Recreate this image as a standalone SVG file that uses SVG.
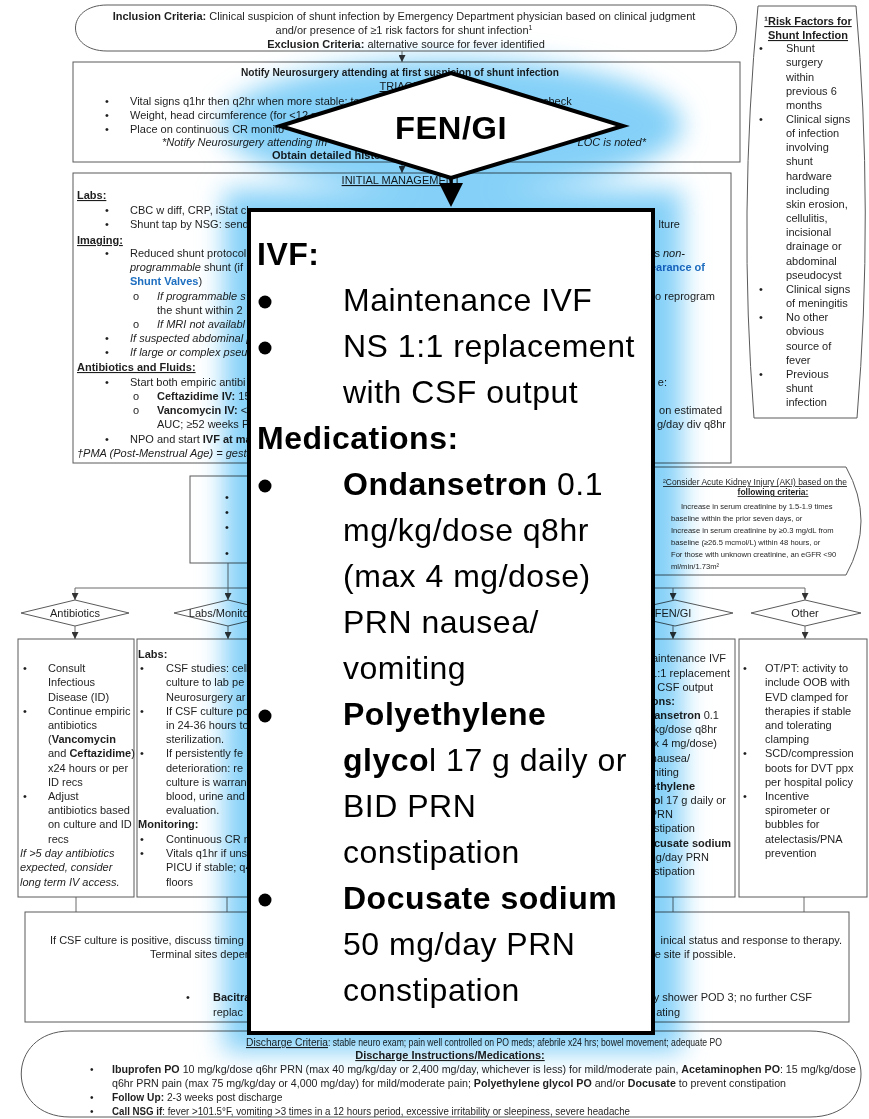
<svg xmlns="http://www.w3.org/2000/svg" width="869" height="1119" viewBox="0 0 869 1119">
  <defs>
    <style>
      .s { font-family: "Liberation Sans Narrow", "Liberation Sans", Arial, sans-serif; font-size: 11px; fill: #1e1e1e; }
      .sm { font-size: 7.6px; }
      .sh { font-size: 8.5px; }
      .dc { font-size: 10.2px; }
      .b { font-weight: bold; }
      .i { font-style: italic; }
      .u { text-decoration: underline; }
      .c { text-anchor: middle; }
      .e { text-anchor: end; }
      .blue { fill: #1f6fc0; font-weight: bold; }
      .box { fill: #fff; stroke: #5a5a5a; stroke-width: 1; }
      .ln { fill: none; stroke: #6a6a6a; stroke-width: 1; }
      .big { font-family: "Liberation Sans", Arial, sans-serif; font-size: 32px; letter-spacing: 0.5px; fill: #000; }
      .ov { fill: #fff; stroke: #000; stroke-width: 4; }
    </style>
    <marker id="ah" viewBox="0 0 10 10" refX="10" refY="5" markerWidth="7" markerHeight="7" markerUnits="userSpaceOnUse" orient="auto">
      <path d="M0,0 L10,5 L0,10 Z" fill="#333"/>
    </marker>
    <filter id="soft" x="-20%" y="-20%" width="140%" height="140%">
      <feGaussianBlur stdDeviation="13"/>
    </filter>
  </defs>

  <rect width="869" height="1119" fill="#fff"/>

  <!-- connectors -->
  <g id="connectors" class="ln">
    <path d="M402,51 V62" marker-end="url(#ah)"/>
    <path d="M402,162 V173" marker-end="url(#ah)"/>
    <path d="M75,588 H805"/>
    <path d="M75,588 V600" marker-end="url(#ah)"/>
    <path d="M228,563 V600" marker-end="url(#ah)"/>
    <path d="M673,588 V600" marker-end="url(#ah)"/>
    <path d="M805,588 V600" marker-end="url(#ah)"/>
    <path d="M75,626 V639" marker-end="url(#ah)"/>
    <path d="M228,626 V639" marker-end="url(#ah)"/>
    <path d="M673,626 V639" marker-end="url(#ah)"/>
    <path d="M805,626 V639" marker-end="url(#ah)"/>
    <path d="M76,897 V912"/>
    <path d="M227,897 V912"/>
    <path d="M673,897 V912"/>
    <path d="M804,897 V912"/>
  </g>

  <!-- inclusion / exclusion criteria -->
  <g id="criteria">
    <path class="box" d="M107,5 H705 C747,5 747,51 705,51 H107 C65,51 65,5 107,5 Z"/>
    <text class="s c" x="404" y="20"><tspan class="b">Inclusion Criteria:</tspan> Clinical suspicion of shunt infection by Emergency Department physician based on clinical judgment</text>
    <text class="s c" x="404" y="34">and/or presence of ≥1 risk factors for shunt infection<tspan font-size="7" dy="-4">1</tspan></text>
    <text class="s c" x="406" y="48"><tspan class="b">Exclusion Criteria:</tspan> alternative source for fever identified</text>
  </g>

  <!-- triage -->
  <g id="triage">
    <rect class="box" x="73" y="62" width="667" height="100"/>
    <text class="s c b" x="400" y="76" textLength="318" lengthAdjust="spacingAndGlyphs">Notify Neurosurgery attending at first suspicion of shunt infection</text>
    <text class="s c u" x="400" y="90">TRIAGE</text>
    <text class="s" x="105" y="105">•</text>
    <text class="s" x="130" y="105">Vital signs q1hr then q2hr when more stable: tem</text>
    <text class="s" x="543" y="105">check</text>
    <text class="s" x="105" y="119">•</text>
    <text class="s" x="130" y="119">Weight, head circumference (for &lt;12 m</text>
    <text class="s" x="105" y="133">•</text>
    <text class="s" x="130" y="133">Place on continuous CR monito</text>
    <text class="s i" x="162" y="146">*Notify Neurosurgery attending im</text>
    <text class="s i e" x="646" y="146">LOC is noted*</text>
    <text class="s b" x="272" y="159">Obtain detailed histo</text>
  </g>

  <!-- initial management -->
  <g id="initial-management">
    <rect class="box" x="73" y="173" width="658" height="290"/>
    <text class="s c u" x="401" y="184">INITIAL MANAGEMENT</text>
    <text class="s b u" x="77" y="199">Labs:</text>
    <text class="s" x="105" y="214">•</text>
    <text class="s" x="130" y="214">CBC w diff, CRP, iStat ch</text>
    <text class="s" x="105" y="228">•</text>
    <text class="s" x="130" y="228">Shunt tap by NSG: send</text>
    <text class="s e" x="680" y="228">lture</text>
    <text class="s b u" x="77" y="244">Imaging:</text>
    <text class="s" x="105" y="257">•</text>
    <text class="s" x="130" y="257">Reduced shunt protocol</text>
    <text class="s e" x="685" y="257">s <tspan class="i">non-</tspan></text>
    <text class="s" x="130" y="271"><tspan class="i">programmable</tspan> shunt (if</text>
    <text class="s e blue" x="705" y="271">earance of</text>
    <text class="s" x="130" y="285"><tspan class="blue">Shunt Valves</tspan>)</text>
    <text class="s" x="133" y="300">o</text>
    <text class="s i" x="157" y="300">If programmable s</text>
    <text class="s e" x="715" y="300">o reprogram</text>
    <text class="s" x="157" y="314">the shunt within 2</text>
    <text class="s" x="133" y="328">o</text>
    <text class="s i" x="157" y="328">If MRI not availabl</text>
    <text class="s" x="105" y="342">•</text>
    <text class="s i" x="130" y="342">If suspected abdominal p</text>
    <text class="s" x="105" y="356">•</text>
    <text class="s i" x="130" y="356">If large or complex pseu</text>
    <text class="s b u" x="77" y="371">Antibiotics and Fluids:</text>
    <text class="s" x="105" y="386">•</text>
    <text class="s" x="130" y="386">Start both empiric antibi</text>
    <text class="s e" x="667" y="386">e:</text>
    <text class="s" x="133" y="400">o</text>
    <text class="s" x="157" y="400"><tspan class="b">Ceftazidime IV:</tspan> 15</text>
    <text class="s" x="133" y="414">o</text>
    <text class="s" x="157" y="414"><tspan class="b">Vancomycin IV:</tspan> &lt;5</text>
    <text class="s e" x="722" y="414">on estimated</text>
    <text class="s" x="157" y="428">AUC; ≥52 weeks P</text>
    <text class="s e" x="726" y="428">g/day div q8hr</text>
    <text class="s" x="105" y="443">•</text>
    <text class="s" x="130" y="443">NPO and start <tspan class="b">IVF at ma</tspan></text>
    <text class="s i" x="77" y="457">†PMA (Post-Menstrual Age) = gesta</text>
  </g>

  <!-- risk factors sidebar -->
  <g id="risk-factors">
    <path class="box" d="M758,6 L856,6 Q874,212 857,418 L754,418 Q738,212 758,6 Z"/>
    <text class="s b u c" x="808" y="25">¹Risk Factors for</text>
    <text class="s b u c" x="808" y="39">Shunt Infection</text>
    <g class="s">
      <text x="759" y="52">•</text>
      <text x="786" y="52">Shunt</text>
      <text x="786" y="66">surgery</text>
      <text x="786" y="80.5">within</text>
      <text x="786" y="94.5">previous 6</text>
      <text x="786" y="108.7">months</text>
      <text x="759" y="122.8">•</text>
      <text x="786" y="122.8">Clinical signs</text>
      <text x="786" y="137">of infection</text>
      <text x="786" y="151.2">involving</text>
      <text x="786" y="165.4">shunt</text>
      <text x="786" y="179.5">hardware</text>
      <text x="786" y="193.7">including</text>
      <text x="786" y="207.9">skin erosion,</text>
      <text x="786" y="222">cellulitis,</text>
      <text x="786" y="236.2">incisional</text>
      <text x="786" y="250.4">drainage or</text>
      <text x="786" y="264.5">abdominal</text>
      <text x="786" y="278.7">pseudocyst</text>
      <text x="759" y="292.9">•</text>
      <text x="786" y="292.9">Clinical signs</text>
      <text x="786" y="307">of meningitis</text>
      <text x="759" y="321.2">•</text>
      <text x="786" y="321.2">No other</text>
      <text x="786" y="335.4">obvious</text>
      <text x="786" y="349.5">source of</text>
      <text x="786" y="363.7">fever</text>
      <text x="759" y="377.9">•</text>
      <text x="786" y="377.9">Previous</text>
      <text x="786" y="392">shunt</text>
      <text x="786" y="406.2">infection</text>
    </g>
  </g>

  <!-- follow-up bullets box -->
  <g id="followup">
    <rect class="box" x="190" y="476" width="453" height="87"/>
    <text class="s" x="225" y="501">•</text>
    <text class="s" x="225" y="516">•</text>
    <text class="s" x="225" y="531">•</text>
    <text class="s" x="225" y="557">•</text>
  </g>

  <!-- acute kidney injury note -->
  <g id="aki">
    <path class="box" d="M640,467 H846 Q876,521 846,575 H640 Z"/>
    <text class="s sh u" x="663" y="485" textLength="184" lengthAdjust="spacingAndGlyphs">²Consider Acute Kidney Injury (AKI) based on the</text>
    <text class="s sh b u c" x="773" y="495">following criteria:</text>
    <g class="s sm">
      <text x="681" y="509">Increase in serum creatinine by 1.5-1.9 times</text>
      <text x="671" y="521">baseline within the prior seven days, or</text>
      <text x="671" y="533">Increase in serum creatinine by ≥0.3 mg/dL from</text>
      <text x="671" y="545">baseline (≥26.5 mcmol/L) within 48 hours, or</text>
      <text x="671" y="557">For those with unknown creatinine, an eGFR &lt;90</text>
      <text x="671" y="569">ml/min/1.73m²</text>
    </g>
  </g>

  <!-- decision diamonds -->
  <g id="d-antibiotics">
    <polygon class="box" points="21,613 75,600 129,613 75,626"/>
    <text class="s c" x="75" y="617">Antibiotics</text>
  </g>
  <g id="d-labs">
    <polygon class="box" points="174,613 228,600 282,613 228,626"/>
    <text class="s c" x="228" y="617">Labs/Monitoring</text>
  </g>
  <g id="d-fengi">
    <polygon class="box" points="617,613 675,600 733,613 675,626"/>
    <text class="s c" x="673" y="617">FEN/GI</text>
  </g>
  <g id="d-other">
    <polygon class="box" points="751,613 805,600 861,613 805,626"/>
    <text class="s c" x="805" y="617">Other</text>
  </g>

  <!-- antibiotics box -->
  <g id="antibiotics">
    <rect class="box" x="18" y="639" width="116" height="258"/>
    <g class="s">
      <text x="23" y="672">•</text>
      <text x="48" y="672">Consult</text>
      <text x="48" y="686">Infectious</text>
      <text x="48" y="701">Disease (ID)</text>
      <text x="23" y="715">•</text>
      <text x="48" y="715">Continue empiric</text>
      <text x="48" y="729">antibiotics</text>
      <text x="48" y="743">(<tspan class="b">Vancomycin</tspan></text>
      <text x="48" y="757">and <tspan class="b">Ceftazidime</tspan>)</text>
      <text x="48" y="772">x24 hours or per</text>
      <text x="48" y="786">ID recs</text>
      <text x="23" y="800">•</text>
      <text x="48" y="800">Adjust</text>
      <text x="48" y="814">antibiotics based</text>
      <text x="48" y="828">on culture and ID</text>
      <text x="48" y="843">recs</text>
      <text class="i" x="20" y="857">If &gt;5 day antibiotics</text>
      <text class="i" x="20" y="871">expected, consider</text>
      <text class="i" x="20" y="886">long term IV access.</text>
    </g>
  </g>

  <!-- labs / monitoring box -->
  <g id="labs">
    <rect class="box" x="137" y="639" width="200" height="258"/>
    <g class="s">
      <text class="b" x="138" y="658">Labs:</text>
      <text x="140" y="672">•</text>
      <text x="166" y="672">CSF studies: cell</text>
      <text x="166" y="686">culture to lab pe</text>
      <text x="166" y="701">Neurosurgery ar</text>
      <text x="140" y="715">•</text>
      <text x="166" y="715">If CSF culture po</text>
      <text x="166" y="729">in 24-36 hours to</text>
      <text x="166" y="743">sterilization.</text>
      <text x="140" y="757">•</text>
      <text x="166" y="757">If persistently fe</text>
      <text x="166" y="772">deterioration: re</text>
      <text x="166" y="786">culture is warran</text>
      <text x="166" y="800">blood, urine and</text>
      <text x="166" y="814">evaluation.</text>
      <text class="b" x="138" y="828">Monitoring:</text>
      <text x="140" y="843">•</text>
      <text x="166" y="843">Continuous CR n</text>
      <text x="140" y="857">•</text>
      <text x="166" y="857">Vitals q1hr if uns</text>
      <text x="166" y="871">PICU if stable; q4</text>
      <text x="166" y="886">floors</text>
    </g>
  </g>

  <!-- FEN/GI box -->
  <g id="fengi">
    <rect class="box" x="612" y="639" width="123" height="258"/>
    <g class="s e">
      <text x="726" y="662">Maintenance IVF</text>
      <text x="730" y="677">NS 1:1 replacement</text>
      <text x="713" y="691">with CSF output</text>
      <text class="b" x="675" y="705">Medications:</text>
      <text x="719" y="719"><tspan class="b">Ondansetron</tspan> 0.1</text>
      <text x="717" y="733">mg/kg/dose q8hr</text>
      <text x="717" y="747">(max 4 mg/dose)</text>
      <text x="690" y="762">PRN nausea/</text>
      <text x="679" y="776">vomiting</text>
      <text class="b" x="695" y="790">Polyethylene</text>
      <text x="726" y="804"><tspan class="b">glyco</tspan>l 17 g daily or</text>
      <text x="673" y="818">BID PRN</text>
      <text x="695" y="832">constipation</text>
      <text class="b" x="731" y="847">Docusate sodium</text>
      <text x="709" y="861">50 mg/day PRN</text>
      <text x="695" y="875">constipation</text>
    </g>
  </g>

  <!-- other box -->
  <g id="other">
    <rect class="box" x="739" y="639" width="128" height="258"/>
    <g class="s">
      <text x="743" y="672">•</text>
      <text x="765" y="672">OT/PT: activity to</text>
      <text x="765" y="686">include OOB with</text>
      <text x="765" y="701">EVD clamped for</text>
      <text x="765" y="715">therapies if stable</text>
      <text x="765" y="729">and tolerating</text>
      <text x="765" y="743">clamping</text>
      <text x="743" y="757">•</text>
      <text x="765" y="757">SCD/compression</text>
      <text x="765" y="772">boots for DVT ppx</text>
      <text x="765" y="786">per hospital policy</text>
      <text x="743" y="800">•</text>
      <text x="765" y="800">Incentive</text>
      <text x="765" y="814">spirometer or</text>
      <text x="765" y="828">bubbles for</text>
      <text x="765" y="843">atelectasis/PNA</text>
      <text x="765" y="857">prevention</text>
    </g>
  </g>

  <!-- CSF culture / wound care box -->
  <g id="csf-culture">
    <rect class="box" x="25" y="912" width="824" height="110"/>
    <text class="s" x="50" y="944">If CSF culture is positive, discuss timing o</text>
    <text class="s e" x="842" y="944">inical status and response to therapy.</text>
    <text class="s" x="150" y="958">Terminal sites deper</text>
    <text class="s e" x="736" y="958">e site if possible.</text>
    <text class="s" x="186" y="1001">•</text>
    <text class="s b" x="213" y="1001">Bacitra</text>
    <text class="s e" x="812" y="1001">y shower POD 3; no further CSF</text>
    <text class="s" x="213" y="1016">replac</text>
    <text class="s e" x="680" y="1016">ating</text>
  </g>

  <!-- discharge -->
  <g id="discharge">
    <path class="box" d="M70,1031 H810 C878,1031 878,1117 810,1117 H70 C5,1117 5,1031 70,1031 Z"/>
    <text class="s u" x="246" y="1046" font-size="10" textLength="82" lengthAdjust="spacingAndGlyphs">Discharge Criteria</text>
    <text class="s" x="328" y="1046" font-size="10" textLength="394" lengthAdjust="spacingAndGlyphs">: stable neuro exam; pain well controlled on PO meds; afebrile x24 hrs; bowel movement; adequate PO</text>
    <text class="s c b u" x="450" y="1059" font-size="10.5">Discharge Instructions/Medications:</text>
    <text class="s dc" x="90" y="1073">•</text>
    <text class="s dc" x="112" y="1073" textLength="744" lengthAdjust="spacingAndGlyphs"><tspan class="b">Ibuprofen PO</tspan> 10 mg/kg/dose q6hr PRN (max 40 mg/kg/day or 2,400 mg/day, whichever is less) for mild/moderate pain, <tspan class="b">Acetaminophen PO</tspan>: 15 mg/kg/dose</text>
    <text class="s dc" x="112" y="1087" textLength="674" lengthAdjust="spacingAndGlyphs">q6hr PRN pain (max 75 mg/kg/day or 4,000 mg/day) for mild/moderate pain; <tspan class="b">Polyethylene glycol PO</tspan> and/or <tspan class="b">Docusate</tspan> to prevent constipation</text>
    <text class="s dc" x="90" y="1101">•</text>
    <text class="s dc" x="112" y="1101"><tspan class="b">Follow Up:</tspan> 2-3 weeks post discharge</text>
    <text class="s dc" x="90" y="1115">•</text>
    <text class="s dc" x="112" y="1115" textLength="518" lengthAdjust="spacingAndGlyphs"><tspan class="b">Call NSG if</tspan>: fever &gt;101.5°F, vomiting &gt;3 times in a 12 hours period, excessive irritability or sleepiness, severe headache</text>
  </g>

  <!-- highlight halo behind the enlarged FEN/GI node -->
  <g id="halo" filter="url(#soft)" style="mix-blend-mode:multiply">
    <ellipse cx="452" cy="125" rx="230" ry="66" fill="#84d0f8"/>
    <rect x="224" y="190" width="458" height="862" fill="#84d0f8"/>
  </g>

  <!-- enlarged FEN/GI node -->
  <g id="fengi-focus">
    <polygon class="ov" points="451,73 623,126 451,178 280,126"/>
    <text class="big b c" x="451" y="139" font-size="36" letter-spacing="0" textLength="112" lengthAdjust="spacingAndGlyphs">FEN/GI</text>
    <path d="M451,178 V185" stroke="#000" stroke-width="3"/>
    <polygon points="439,183 463,183 451,207" fill="#000"/>
    <rect class="ov" x="249" y="210" width="404" height="823"/>
    <text class="big b" x="257" y="265">IVF:</text>
    <circle cx="265" cy="302" r="6.5"/>
    <text class="big" x="343" y="311">Maintenance IVF</text>
    <circle cx="265" cy="348" r="6.5"/>
    <text class="big" x="343" y="357">NS 1:1 replacement</text>
    <text class="big" x="343" y="403">with CSF output</text>
    <text class="big b" x="257" y="449">Medications:</text>
    <circle cx="265" cy="486" r="6.5"/>
    <text class="big" x="343" y="495"><tspan font-weight="bold">Ondansetron</tspan> 0.1</text>
    <text class="big" x="343" y="541">mg/kg/dose q8hr</text>
    <text class="big" x="343" y="587">(max 4 mg/dose)</text>
    <text class="big" x="343" y="633">PRN nausea/</text>
    <text class="big" x="343" y="679">vomiting</text>
    <circle cx="265" cy="716" r="6.5"/>
    <text class="big b" x="343" y="725">Polyethylene</text>
    <text class="big" x="343" y="771"><tspan font-weight="bold">glyco</tspan>l 17 g daily or</text>
    <text class="big" x="343" y="817">BID PRN</text>
    <text class="big" x="343" y="863">constipation</text>
    <circle cx="265" cy="900" r="6.5"/>
    <text class="big b" x="343" y="909">Docusate sodium</text>
    <text class="big" x="343" y="955">50 mg/day PRN</text>
    <text class="big" x="343" y="1001">constipation</text>
  </g>
</svg>
